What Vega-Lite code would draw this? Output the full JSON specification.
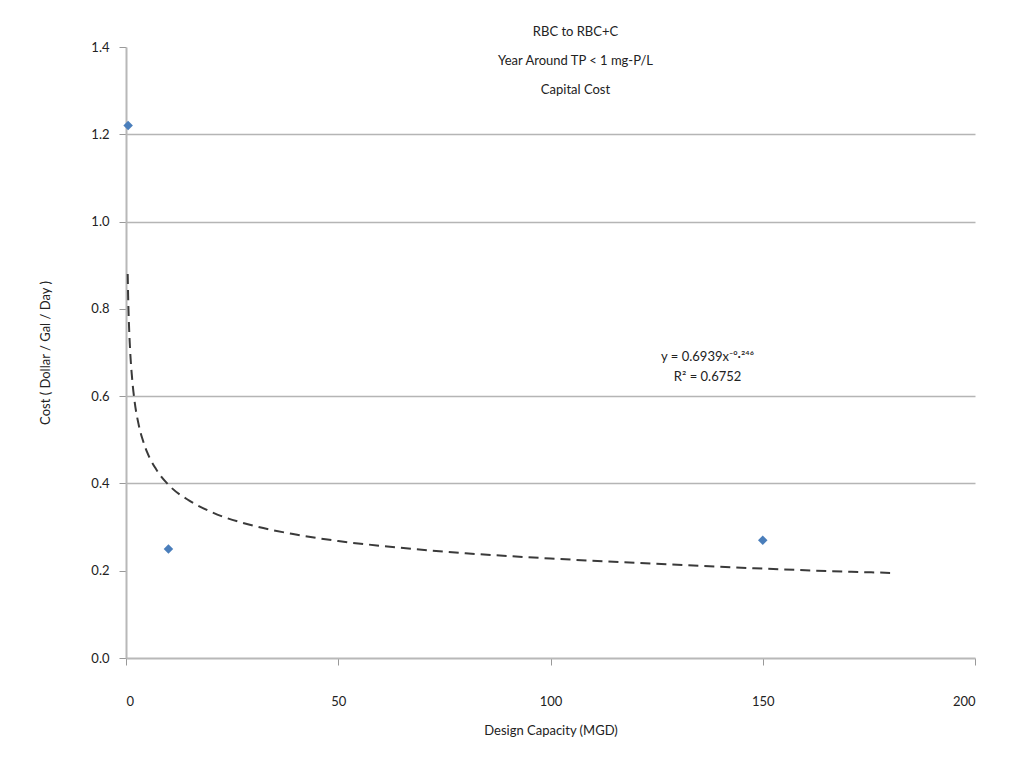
{
  "$schema": "https://vega.github.io/schema/vega-lite/v6.json",
  "width": 849,
  "height": 611,
  "autosize": "none",
  "padding": {"left": 126, "top": 47, "right": 52, "bottom": 117},
  "background": "white",
  "config": {
    "view": {"stroke": null},
    "font": "Lato",
    "axis": {"labelFont": "Lato", "titleFont": "Lato", "labelColor": "#222", "titleColor": "#222", "labelFontSize": 13, "titleFontSize": 13, "titleFontWeight": "normal", "domainColor": "#b8b8b8", "domainWidth": 2, "tickColor": "#999", "tickSize": 7, "gridColor": "#b5b5b5", "gridWidth": 1.5}
  },
  "title": {
    "text": ["RBC to RBC+C", "Year Around TP < 1 mg-P/L", "Capital Cost"],
    "anchor": "middle",
    "dx": 25,
    "offset": -56,
    "fontSize": 13,
    "fontWeight": "normal",
    "lineHeight": 29,
    "font": "Lato",
    "color": "#222"
  },
  "datasets": {
    "obs": [
      {"capacity": 0.5, "cost": 1.22},
      {"capacity": 10, "cost": 0.25},
      {"capacity": 150, "cost": 0.27}
    ],
    "trend": [
      {"capacity": 0.4, "cost": 0.88},
      {"capacity": 0.5, "cost": 0.83},
      {"capacity": 0.75, "cost": 0.751},
      {"capacity": 1, "cost": 0.7},
      {"capacity": 1.5, "cost": 0.634},
      {"capacity": 2, "cost": 0.59},
      {"capacity": 3, "cost": 0.534},
      {"capacity": 4, "cost": 0.498},
      {"capacity": 5, "cost": 0.471},
      {"capacity": 7, "cost": 0.434},
      {"capacity": 10, "cost": 0.397},
      {"capacity": 15, "cost": 0.36},
      {"capacity": 20, "cost": 0.335},
      {"capacity": 30, "cost": 0.303},
      {"capacity": 40, "cost": 0.283},
      {"capacity": 50, "cost": 0.268},
      {"capacity": 60, "cost": 0.257},
      {"capacity": 80, "cost": 0.24},
      {"capacity": 100, "cost": 0.228},
      {"capacity": 120, "cost": 0.218},
      {"capacity": 140, "cost": 0.209},
      {"capacity": 160, "cost": 0.201},
      {"capacity": 180, "cost": 0.195}
    ],
    "eq": [
      {"capacity": 137, "cost": 0.69, "label": ["y = 0.6939x⁻⁰·²⁴⁶", "R² = 0.6752"]}
    ]
  },
  "encoding": {
    "x": {"field": "capacity", "type": "quantitative", "scale": {"domain": [0, 200], "nice": false}, "axis": {"title": "Design Capacity (MGD)", "values": [0, 50, 100, 150, 200], "grid": false, "labelPadding": 30, "titlePadding": 16}},
    "y": {"field": "cost", "type": "quantitative", "scale": {"domain": [0, 1.4], "nice": false}, "axis": {"title": "Cost ( Dollar / Gal / Day )", "values": [0, 0.2, 0.4, 0.6, 0.8, 1.0, 1.2, 1.4], "format": ".1f", "labelPadding": 10, "titlePadding": 38, "gridOpacity": {"condition": {"test": "datum.value == 0.4 || datum.value == 0.6 || datum.value == 1 || datum.value == 1.2", "value": 1}, "value": 0}}}
  },
  "layer": [
    {
      "data": {"name": "trend"},
      "mark": {"type": "line", "color": "#3a3a3a", "strokeWidth": 2, "strokeDash": [10, 6], "interpolate": "monotone"}
    },
    {
      "data": {"name": "obs"},
      "mark": {"type": "point", "shape": "diamond", "filled": true, "color": "#4a7ebb", "size": 90, "opacity": 1}
    },
    {
      "data": {"name": "eq"},
      "mark": {"type": "text", "fontSize": 13, "font": "Lato", "color": "#222", "lineHeight": 20, "align": "center", "baseline": "middle"},
      "encoding": {"text": {"field": "label"}}
    }
  ]
}
